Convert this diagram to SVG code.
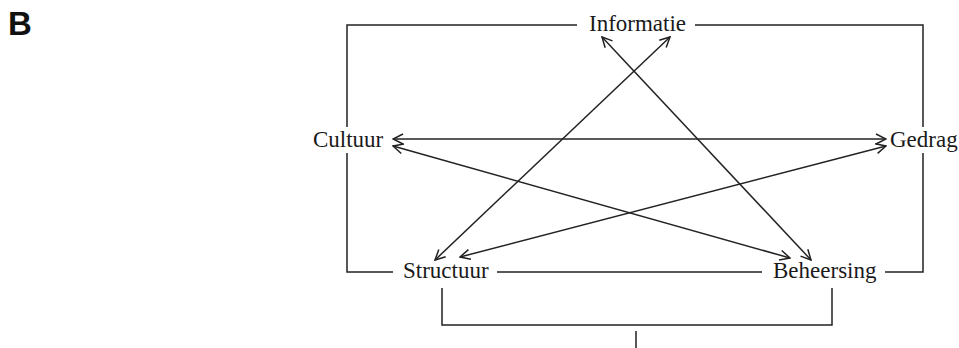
<svg xmlns="http://www.w3.org/2000/svg" width="959" height="348" viewBox="0 0 959 348">
<style>
.lbl{font-family:"Liberation Serif","Times New Roman",serif;font-size:23px;fill:#1a1a1a}
.ln{stroke:#222;stroke-width:1.5;fill:none}
.ar{stroke:#222;stroke-width:1.5;fill:none;marker-start:url(#ah);marker-end:url(#ah)}
</style>
<defs>
<marker id="ah" viewBox="0 0 12 12" refX="11" refY="6" markerWidth="12" markerHeight="12" markerUnits="userSpaceOnUse" orient="auto-start-reverse">
<path d="M1,1 L11,6 L1,11" fill="none" stroke="#222" stroke-width="1.5"/>
</marker>
</defs>
<rect width="959" height="348" fill="#fff"/>
<text x="8" y="35" style="font-family:'Liberation Sans',Arial,sans-serif;font-weight:bold;font-size:33px;fill:#111">B</text>
<g id="frame">
<path class="ln" d="M577,25 H347 V127 M347,153 V272 H393 M497,272 H762 M885,272 H923 V153 M923,127 V25 H695"/>
<path class="ln" d="M442,288 V325 H832 V288 M636,331 V348"/>
</g>
<g id="connectors">
<line class="ar" x1="393" y1="139" x2="886" y2="139"/>
<line class="ar" x1="393" y1="146" x2="790" y2="258"/>
<line class="ar" x1="886" y1="146" x2="460" y2="257"/>
<line class="ar" x1="670" y1="37" x2="435" y2="260"/>
<line class="ar" x1="602" y1="37" x2="811" y2="260"/>
</g>
<g id="informatie"><text class="lbl" x="589" y="31">Informatie</text></g>
<g id="cultuur"><text class="lbl" x="313" y="147">Cultuur</text></g>
<g id="gedrag"><text class="lbl" x="890" y="147">Gedrag</text></g>
<g id="structuur"><text class="lbl" x="403" y="278">Structuur</text></g>
<g id="beheersing"><text class="lbl" x="773" y="278">Beheersing</text></g>
</svg>
